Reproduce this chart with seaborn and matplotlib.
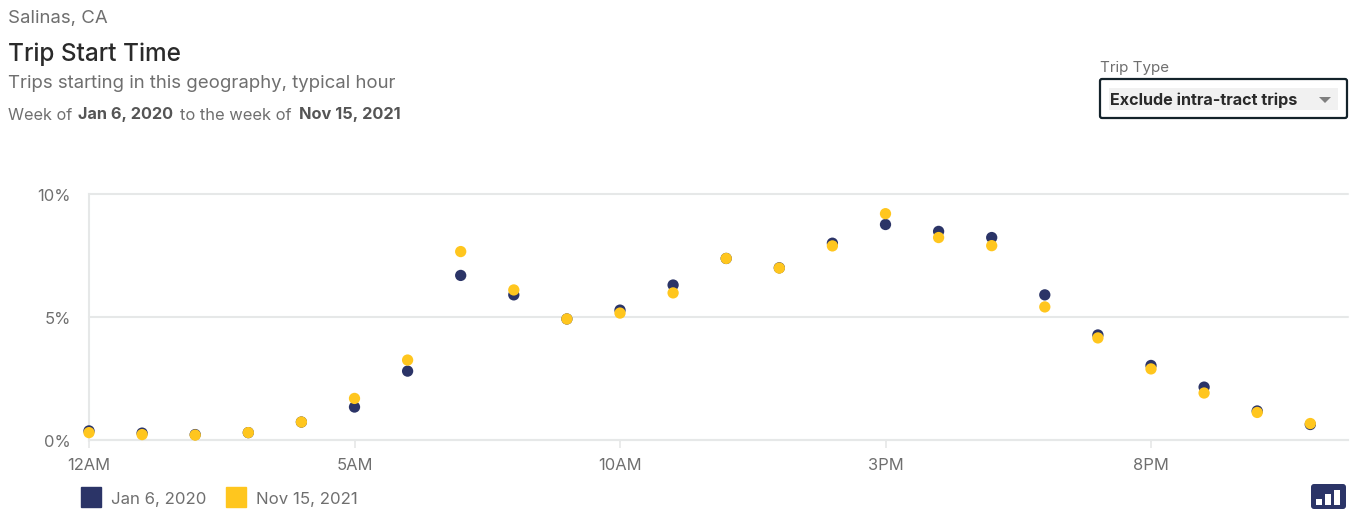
import matplotlib
matplotlib.use("Agg")
import matplotlib.pyplot as plt
from matplotlib.lines import Line2D
from matplotlib.patches import FancyBboxPatch, Rectangle, Polygon
import pandas as pd
import seaborn as sns

hours = list(range(24))
tick_hours = [0, 5, 10, 15, 20]
tick_labels = ["12AM", "5AM", "10AM", "3PM", "8PM"]
y_ticks = [0, 5, 10]
y_labels = ["0%", "5%", "10%"]
jan_2020 = [0.37, 0.28, 0.22, 0.30, 0.73, 1.34, 2.80, 6.69, 5.90, 4.92, 5.28, 6.30,
            7.38, 7.00, 8.00, 8.76, 8.48, 8.23, 5.90, 4.27, 3.03, 2.15, 1.18, 0.63]
nov_2021 = [0.30, 0.22, 0.20, 0.30, 0.73, 1.69, 3.25, 7.66, 6.10, 4.92, 5.16, 5.98,
            7.38, 6.99, 7.89, 9.20, 8.23, 7.90, 5.41, 4.15, 2.89, 1.91, 1.12, 0.67]
series_names = ["Jan 6, 2020", "Nov 15, 2021"]
NAVY, GOLD = "#2B3467", "#FFC61E"
GRID, TXT, DARK = "#E6E8E8", "#6F6F6F", "#2A2A2A"

W, H = 1352, 510
sns.set_theme(style="white")
plt.rcParams["font.family"] = ["Inter", "DejaVu Sans"]
fig = plt.figure(figsize=(W / 100, H / 100), dpi=100)
ax = fig.add_axes([89 / W, 1 - 441 / H, (1348 - 89) / W, 246 / H])

df = pd.DataFrame({
    "hour": hours * 2,
    "share": jan_2020 + nov_2021,
    "week": [series_names[0]] * 24 + [series_names[1]] * 24,
})
sns.scatterplot(data=df, x="hour", y="share", hue="week", hue_order=series_names,
                palette=[NAVY, GOLD], s=66, linewidth=0, legend=False, ax=ax,
                clip_on=False, zorder=3)

ax.set_xlim(0, (1348 - 89) / 53.1)
ax.set_ylim(0, 10)
ax.set_xlabel("")
ax.set_ylabel("")
ax.set_xticks(tick_hours, tick_labels)
ax.set_yticks(y_ticks, y_labels)
ax.grid(axis="y", color=GRID, lw=1.5, zorder=0)
for gl in ax.get_ygridlines():
    gl.set_clip_on(False)
for s in ["top", "right"]:
    ax.spines[s].set_visible(False)
for s in ["left", "bottom"]:
    ax.spines[s].set_color(GRID)
    ax.spines[s].set_linewidth(1.5)
ax.tick_params(axis="x", length=6, width=1.2, color=GRID, labelsize=11.9, labelcolor=TXT, pad=6, bottom=True)
ax.tick_params(axis="y", length=0, labelsize=11.9, labelcolor=TXT, pad=13)

handles = [Line2D([], [], ls="", marker="s", ms=14.5, color=c, mec=c) for c in (NAVY, GOLD)]
fig.legend(handles, series_names, loc="center left", bbox_to_anchor=(79 / W, 1 - 499.5 / H), ncol=2,
           frameon=False, fontsize=12.1, labelcolor=TXT, handletextpad=0.49,
           columnspacing=1.1, handlelength=1.4, borderpad=0, borderaxespad=0)


def t(x, y, s, size, color=TXT, weight="normal"):
    return fig.text(x / W, 1 - y / H, s, fontsize=size, color=color, fontweight=weight, va="center", ha="left")


t(8, 18, "Salinas, CA", 13.4)
t(8, 54.5, "Trip Start Time", 17.5, DARK, "medium")
t(8, 83, "Trips starting in this geography, typical hour", 13.4)
t(8, 115, "Week of", 11.7)
t(78, 115, "Jan 6, 2020", 11.7, "#555555", "bold")
t(180, 115, "to the week of", 11.9)
t(299, 115, "Nov 15, 2021", 11.8, "#555555", "bold")
t(1100, 68, "Trip Type", 10.9)


def box(x0, y0, x1, y1, fc, ec="none", lw=0, r=2):
    fig.add_artist(FancyBboxPatch((x0, H - y1), x1 - x0, y1 - y0, boxstyle=f"round,pad=0,rounding_size={r}",
                                  fc=fc, ec=ec, lw=lw, transform=None))


box(1100, 80, 1347, 119, "white", "#14232B", 1.6)
fig.add_artist(Rectangle((1109 / W, 1 - 111 / H), 229 / W, 22 / H, fc="#F1F1F1", ec="none", transform=fig.transFigure))
t(1110, 100.5, "Exclude intra-tract trips", 11.6, "#2A2A2A", "bold")
fig.add_artist(Polygon([(1319 / W, 1 - 98 / H), (1331 / W, 1 - 98 / H), (1325 / W, 1 - 104 / H)],
                       fc="#7F7F7F", ec="none", transform=fig.transFigure))
box(1311, 485, 1346, 510, NAVY, r=3)
for x0, x1, top in [(1316, 1322, 500), (1325, 1331, 495), (1334, 1340, 491)]:
    fig.add_artist(Rectangle((x0 / W, 1 - 506 / H), (x1 - x0) / W, (506 - top) / H, fc="white", ec="none",
                             transform=fig.transFigure))

fig.savefig("out.png", dpi=100)
